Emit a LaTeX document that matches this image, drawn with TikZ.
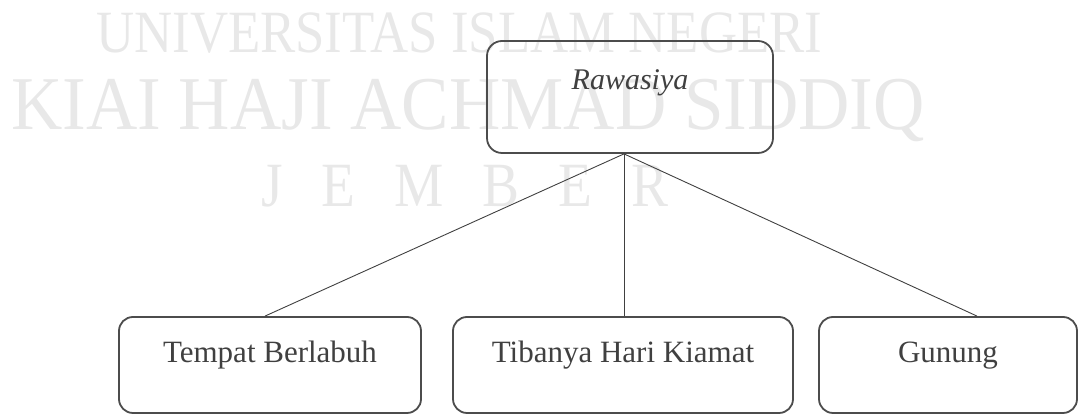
\documentclass[tikz,border=0pt]{standalone}
\usepackage{fontspec}
\setmainfont{Liberation Serif}
\newfontfamily\wmfont[FakeStretch=0.88]{Liberation Serif}
\newfontfamily\wmwidefont[FakeStretch=0.935]{Liberation Serif}
\usepackage{xcolor}
\usepackage{tikz}
\usetikzlibrary{positioning, calc}

\begin{document}
\begin{tikzpicture}[
    x=1pt, y=1pt,
    every node/.style={inner sep=0pt},
    watermark/.style={anchor=base west, text=black!9},
    topic/.style={draw=black!70, line width=1.8pt, rounded corners=15pt, minimum width=286pt, text height=49pt, text depth=63pt, anchor=base, text=black!75, font=\fontsize{30}{36}\selectfont\itshape},
    item/.style={draw=black!70, line width=1.8pt, rounded corners=14pt, text height=46pt, text depth=50pt, anchor=base, text=black!75, font=\fontsize{31}{37}\selectfont},
    link/.style={line width=0.9pt, draw=black!75}
  ]
  \useasboundingbox (0,0) rectangle (1080,414);

  % Watermark
  \node[watermark, font=\wmfont\fontsize{60}{60}\selectfont] (wm1) at (96, 361) {UNIVERSITAS ISLAM NEGERI};
  \node[watermark, font=\wmwidefont\fontsize{76}{76}\selectfont] (wm2) at (11, 284) {KIAI HAJI ACHMAD SIDDIQ};
  \node[watermark, font=\wmfont\fontsize{63}{63}\selectfont] (wm3) at (261, 207) {J\hspace{39pt}E\hspace{39pt}M\hspace{39pt}B\hspace{39pt}E\hspace{39pt}R};

  % Top box
  \node[topic] (rawasiya) at (630, 324) {Rawasiya};

  % Bottom boxes
  \node[item, minimum width=302pt] (tempat) at (270, 51) {Tempat Berlabuh};
  \node[item, minimum width=340pt] (kiamat) at (623, 51) {Tibanya Hari Kiamat};
  \node[item, minimum width=258pt] (gunung) at (948, 51) {Gunung};

  % Lines
  \draw[link] ([xshift=-6pt]rawasiya.south) -- ([xshift=-5pt]tempat.north);
  \draw[link] ([xshift=-6pt]rawasiya.south) -- ([xshift=1pt]kiamat.north);
  \draw[link] ([xshift=-6pt]rawasiya.south) -- ([xshift=29pt]gunung.north);

\end{tikzpicture}
\end{document}
